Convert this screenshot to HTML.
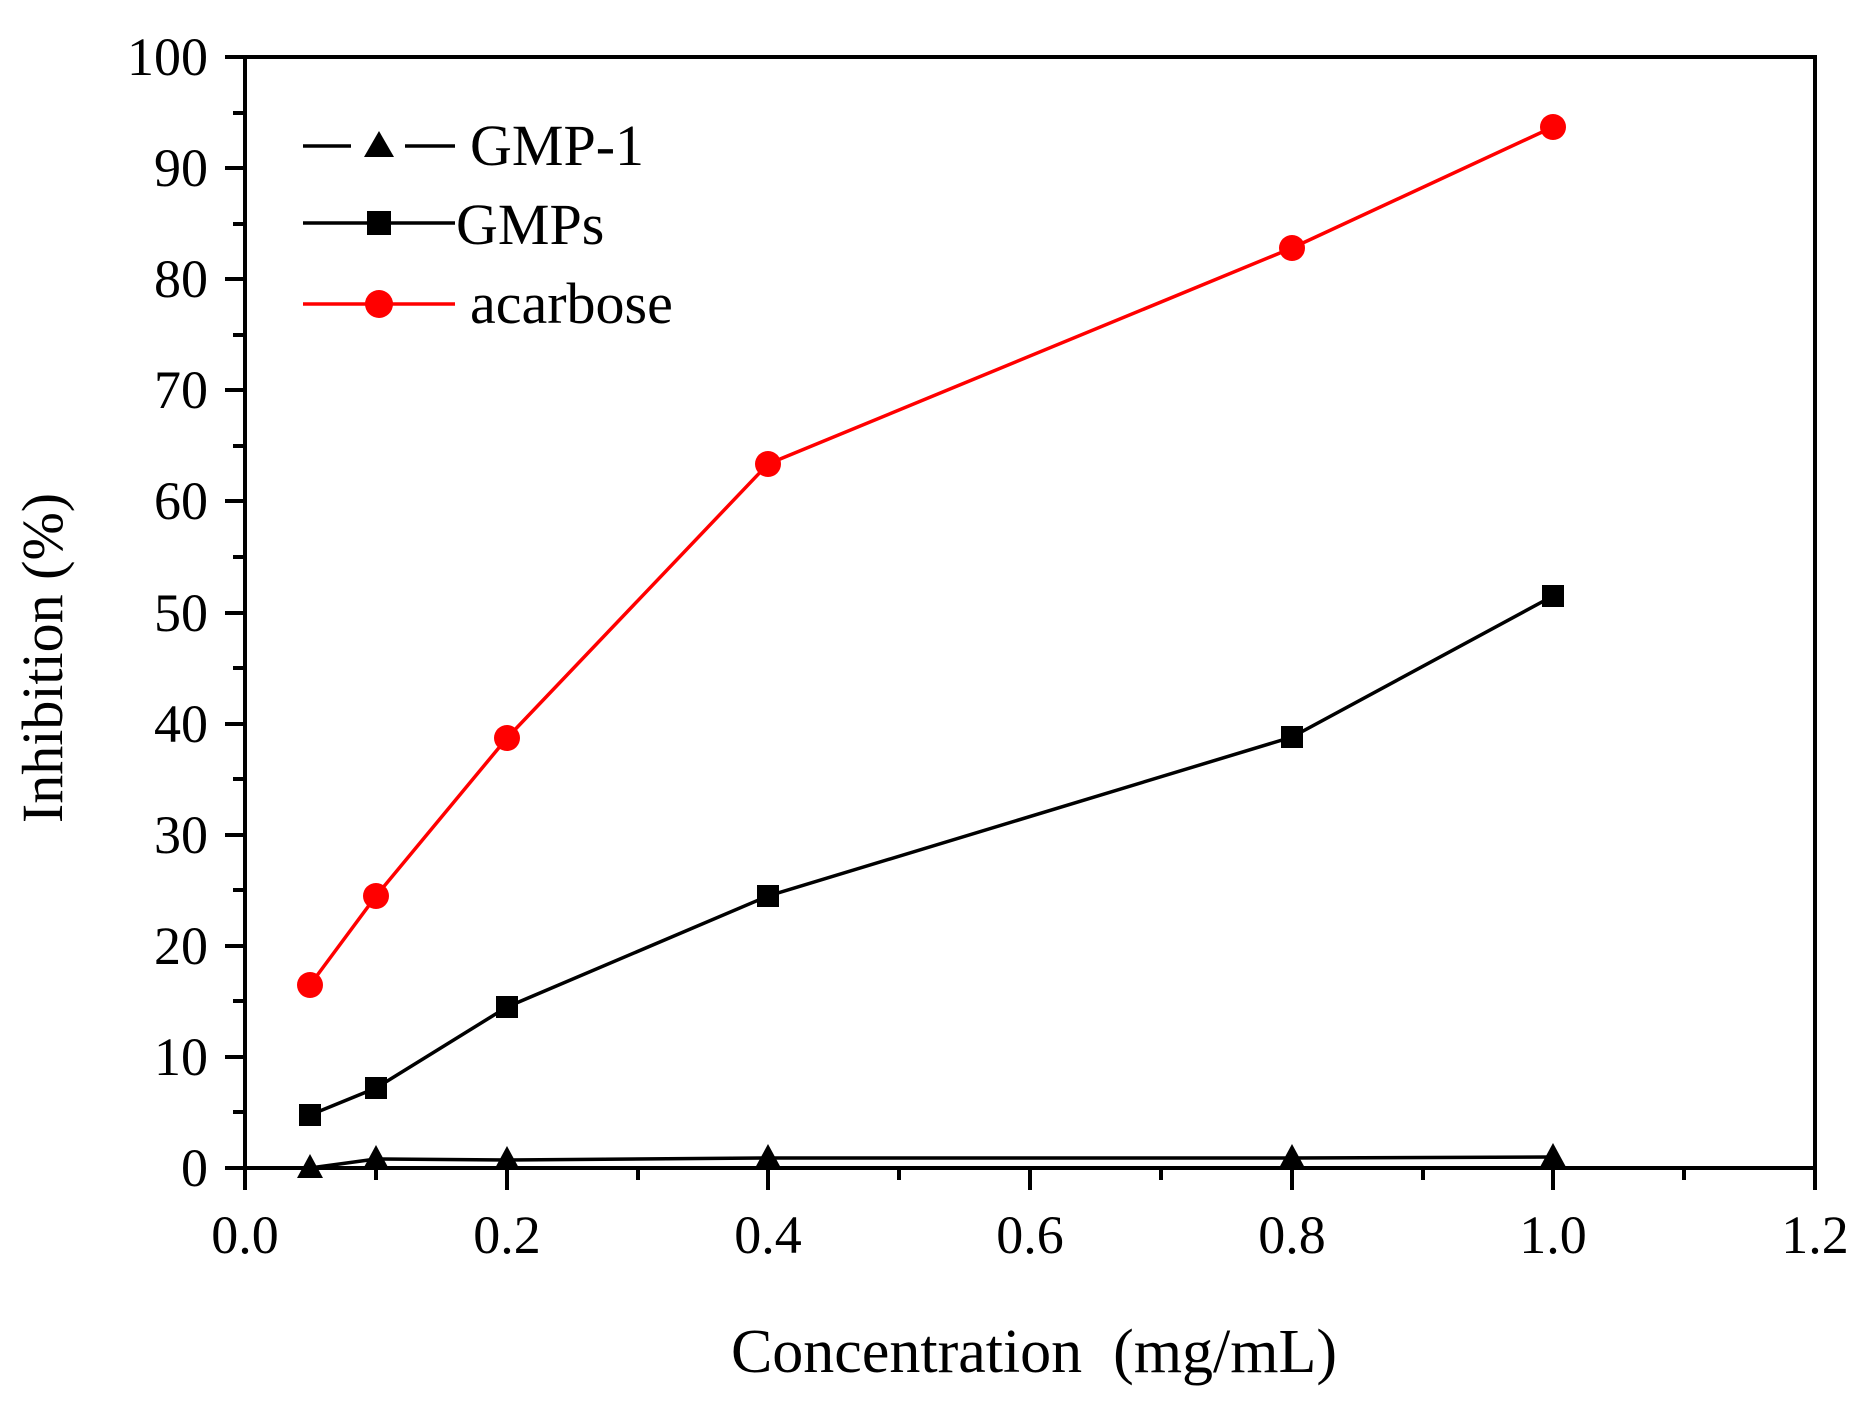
<!DOCTYPE html>
<html><head><meta charset="utf-8"><style>body{margin:0;background:#fff}svg{display:block}text{font-family:"Liberation Serif",serif;fill:#000}</style></head><body>
<svg width="1866" height="1401" viewBox="0 0 1866 1401" xmlns="http://www.w3.org/2000/svg">
<g stroke="#000" stroke-width="4" fill="none">
<rect x="245" y="57" width="1570" height="1111"/>
<path d="M245 1168h-20M245 1057h-20M245 946h-20M245 835h-20M245 724h-20M245 613h-20M245 501h-20M245 390h-20M245 279h-20M245 168h-20M245 57h-20"/>
<path d="M245 1112h-12M245 1001h-12M245 890h-12M245 779h-12M245 668h-12M245 557h-12M245 446h-12M245 335h-12M245 224h-12M245 113h-12"/>
<path d="M245 1168v22M507 1168v22M768 1168v22M1030 1168v22M1292 1168v22M1553 1168v22M1815 1168v22"/>
<path d="M376 1168v12M638 1168v12M899 1168v12M1161 1168v12M1423 1168v12M1684 1168v12"/>
</g>
<g font-size="54" text-anchor="end">
<text x="208" y="1186">0</text><text x="208" y="1075">10</text><text x="208" y="964">20</text><text x="208" y="853">30</text><text x="208" y="742">40</text><text x="208" y="631">50</text><text x="208" y="519">60</text><text x="208" y="408">70</text><text x="208" y="297">80</text><text x="208" y="186">90</text><text x="208" y="75">100</text>
</g>
<g font-size="54" text-anchor="middle">
<text x="245" y="1253">0.0</text><text x="507" y="1253">0.2</text><text x="768" y="1253">0.4</text><text x="1030" y="1253">0.6</text><text x="1292" y="1253">0.8</text><text x="1553" y="1253">1.0</text><text x="1815" y="1253">1.2</text>
</g>
<text x="1034" y="1372" font-size="62" text-anchor="middle" xml:space="preserve">Concentration  (mg/mL)</text>
<text transform="translate(62,658) rotate(-90)" font-size="58" text-anchor="middle">Inhibition (%)</text>
<polyline fill="none" stroke="#f00" stroke-width="3.5" points="310,985 376,896 507,738 768,464 1292,248 1553,127"/>
<g fill="#f00"><circle cx="310" cy="985" r="13"/><circle cx="376" cy="896" r="13"/><circle cx="507" cy="738" r="13"/><circle cx="768" cy="464" r="13"/><circle cx="1292" cy="248" r="13"/><circle cx="1553" cy="127" r="13"/></g>
<polyline fill="none" stroke="#000" stroke-width="3.5" points="310,1115 376,1088 507,1007 768,896 1292,737 1553,596"/>
<g fill="#000"><rect x="299" y="1104" width="22" height="22"/><rect x="365" y="1077" width="22" height="22"/><rect x="496" y="996" width="22" height="22"/><rect x="757" y="885" width="22" height="22"/><rect x="1281" y="726" width="22" height="22"/><rect x="1542" y="585" width="22" height="22"/></g>
<polyline fill="none" stroke="#000" stroke-width="3.5" points="310,1168 376,1159 507,1160 768,1158 1292,1158 1553,1157"/>
<g fill="#000"><path d="M310 1154l13 24h-26z"/><path d="M376 1145l13 24h-26z"/><path d="M507 1146l13 24h-26z"/><path d="M768 1144l13 24h-26z"/><path d="M1292 1144l13 24h-26z"/><path d="M1553 1143l13 24h-26z"/></g>
<path d="M303 146h48M405 146h50" stroke="#000" stroke-width="3.5"/>
<path d="M379 131l15 26h-30z" fill="#000"/>
<text x="470" y="165" font-size="58">GMP-1</text>
<path d="M303 223h152" stroke="#000" stroke-width="3.5"/>
<rect x="367" y="211" width="24" height="24" fill="#000"/>
<text x="456" y="244" font-size="58">GMPs</text>
<path d="M303 304h152" stroke="#f00" stroke-width="3.5"/>
<circle cx="379" cy="304" r="14" fill="#f00"/>
<text x="470" y="323" font-size="58">acarbose</text>
</svg>
</body></html>
